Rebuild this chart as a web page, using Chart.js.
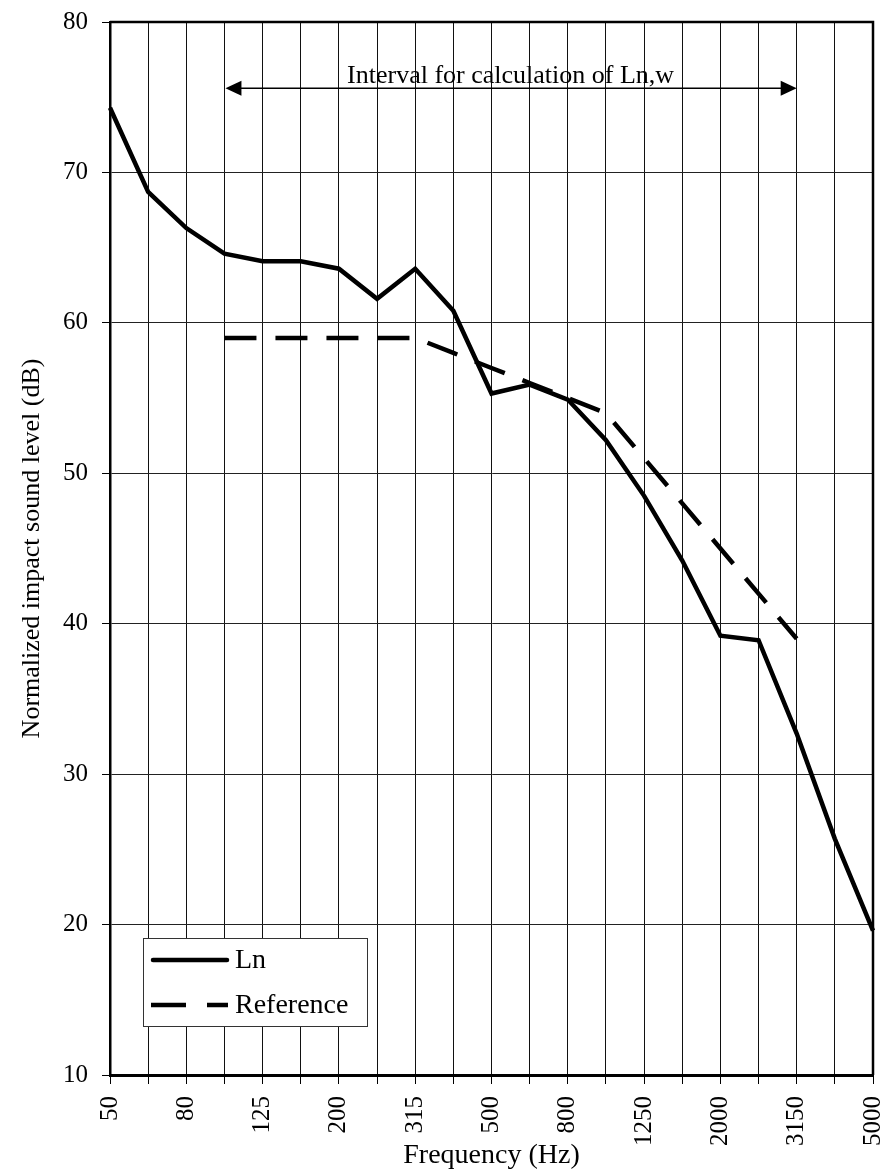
<!DOCTYPE html>
<html>
<head>
<meta charset="utf-8">
<script src="https://cdn.jsdelivr.net/npm/chart.js@4/dist/chart.umd.min.js"></script>
<style>
  html, body { margin: 0; padding: 0; background: #fff; }
  canvas { display: block; }
</style>
</head>
<body>
<canvas id="impactChart" width="882" height="1174"></canvas>
<script>
// one-third octave bands
const freqLabels = ['50', '63', '80', '100', '125', '160', '200', '250', '315', '400', '500',
  '630', '800', '1000', '1250', '1600', '2000', '2500', '3150', '4000', '5000'];
const lnValues = [74.3, 68.7, 66.3, 64.6, 64.1, 64.1, 63.6, 61.6, 63.6, 60.8, 55.3,
  55.9, 54.9, 52.2, 48.5, 44.2, 39.2, 38.9, 32.7, 25.7, 19.6];
// reference curve only covers 100..3150 Hz
const refValues = [null, null, null, 59, 59, 59, 59, 59, 59, 58, 57,
  56, 55, 54, 51, 48, 45, 42, 39, null, null];
const seriesNames = ['Ln', 'Reference'];
const yTicks = [10, 20, 30, 40, 50, 60, 70, 80];
const intervalText = 'Interval for calculation of Ln,w';
const intervalFrom = '100';
const intervalTo = '3150';
const intervalLevel = 75.6;

const serif = '"Liberation Serif", "Times New Roman", serif';
Chart.defaults.font.family = serif;
Chart.defaults.color = '#000';

// frame, interval arrow and the legend box
const overlay = {
  id: 'overlay',
  afterDraw(chart) {
    const { ctx, chartArea: a, scales: { x, y } } = chart;
    ctx.save();

    // top + right border of plot
    ctx.strokeStyle = '#000';
    ctx.lineWidth = 2.5;
    ctx.beginPath();
    ctx.moveTo(a.left, a.top);
    ctx.lineTo(a.right, a.top);
    ctx.lineTo(a.right, a.bottom);
    ctx.stroke();

    // double arrow
    const x0 = x.getPixelForValue(freqLabels.indexOf(intervalFrom));
    const x1 = x.getPixelForValue(freqLabels.indexOf(intervalTo));
    const ay = y.getPixelForValue(intervalLevel);
    ctx.lineWidth = 1.5;
    ctx.beginPath();
    ctx.moveTo(x0 + 10, ay);
    ctx.lineTo(x1 - 10, ay);
    ctx.stroke();
    ctx.fillStyle = '#000';
    ctx.beginPath();
    ctx.moveTo(x0 + 1, ay);
    ctx.lineTo(x0 + 17, ay - 7.5);
    ctx.lineTo(x0 + 17, ay + 7.5);
    ctx.closePath();
    ctx.fill();
    ctx.beginPath();
    ctx.moveTo(x1, ay);
    ctx.lineTo(x1 - 16, ay - 7.5);
    ctx.lineTo(x1 - 16, ay + 7.5);
    ctx.closePath();
    ctx.fill();

    ctx.font = '26px ' + serif;
    ctx.textAlign = 'center';
    ctx.textBaseline = 'alphabetic';
    ctx.fillText(intervalText, (x0 + x1) / 2, ay - 5);

    // legend
    const lx = a.left + 33, ly = a.bottom - 137, lw = 224, lh = 88;
    ctx.fillStyle = '#fff';
    ctx.fillRect(lx, ly, lw, lh);
    ctx.strokeStyle = '#333';
    ctx.lineWidth = 1;
    ctx.strokeRect(lx + 0.5, ly + 0.5, lw, lh);

    const rows = [ly + 22, ly + 67];
    chart.data.datasets.forEach((ds, i) => {
      const ry = rows[i];
      ctx.strokeStyle = '#000';
      ctx.lineWidth = 4.5;
      if (ds.borderDash && ds.borderDash.length) {
        ctx.lineCap = 'butt';
        ctx.setLineDash([35, 21]);
        ctx.beginPath();
        ctx.moveTo(lx + 8, ry);
        ctx.lineTo(lx + 85, ry);
        ctx.stroke();
        ctx.setLineDash([]);
      } else {
        ctx.lineCap = 'round';
        ctx.beginPath();
        ctx.moveTo(lx + 10, ry);
        ctx.lineTo(lx + 84, ry);
        ctx.stroke();
      }
      ctx.fillStyle = '#000';
      ctx.font = '28px ' + serif;
      ctx.textAlign = 'left';
      ctx.textBaseline = 'middle';
      ctx.fillText(ds.label, lx + 92, ry + 1);
    });

    ctx.restore();
  }
};

new Chart(document.getElementById('impactChart').getContext('2d'), {
  type: 'line',
  data: {
    labels: freqLabels,
    datasets: [
      {
        label: seriesNames[0],
        data: lnValues,
        borderColor: '#000',
        borderWidth: 4.5,
        pointRadius: 0,
        tension: 0,
        fill: false
      },
      {
        label: seriesNames[1],
        data: refValues,
        borderColor: '#000',
        borderWidth: 4.5,
        borderDash: [32, 19],
        pointRadius: 0,
        tension: 0,
        fill: false
      }
    ]
  },
  options: {
    responsive: false,
    animation: false,
    devicePixelRatio: 1,
    layout: { padding: { top: 22, right: 9, left: 0, bottom: 0 } },
    plugins: {
      legend: { display: false },
      tooltip: { enabled: false }
    },
    scales: {
      x: {
        type: 'category',
        offset: false,
        grid: { color: '#111', lineWidth: 1, tickLength: 9, tickColor: '#000' },
        border: { display: true, color: '#000', width: 3 },
        ticks: {
          autoSkip: false,
          maxRotation: 90,
          minRotation: 90,
          padding: 12,
          font: { size: 25 },
          color: '#000',
          // every other band is labelled
          callback: (val, i) => (i % 2 === 0 ? freqLabels[i] : '')
        },
        title: {
          display: true,
          text: 'Frequency (Hz)',
          font: { size: 28 },
          color: '#000',
          padding: { top: 0, bottom: 2 }
        },
        afterFit: (s) => { s.height = 99; s.paddingLeft = 0; s.paddingRight = 0; }
      },
      y: {
        min: 10,
        max: 80,
        grid: { color: '#222', lineWidth: 1, tickLength: 8, tickColor: '#000' },
        border: { display: true, color: '#000', width: 2.5 },
        afterBuildTicks: (s) => { s.ticks = yTicks.map((v) => ({ value: v })); },
        ticks: {
          padding: 14,
          font: { size: 25 },
          color: '#000'
        },
        title: {
          display: true,
          text: 'Normalized impact sound level (dB)',
          font: { size: 26 },
          color: '#000',
          padding: { top: 17, bottom: 0 }
        },
        afterFit: (s) => { s.width = 110; s.paddingTop = 0; s.paddingBottom = 0; }
      }
    }
  },
  plugins: [overlay]
});
</script>
</body>
</html>
